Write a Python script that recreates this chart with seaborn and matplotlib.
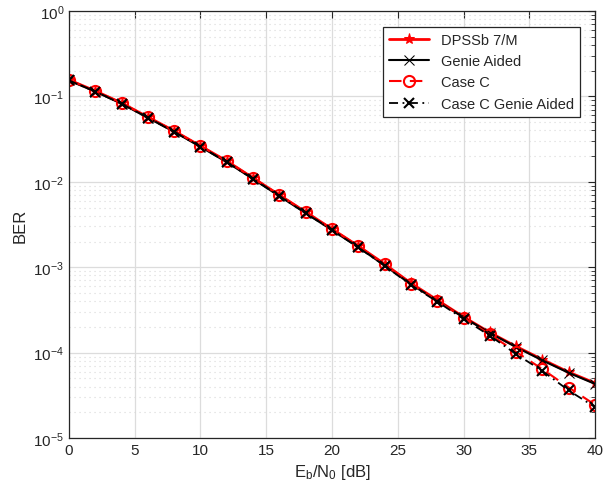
import numpy as np
import pandas as pd
import matplotlib
matplotlib.use("Agg")
import matplotlib.pyplot as plt
import seaborn as sns
from matplotlib.ticker import LogLocator, NullFormatter

snr_db = [0, 2, 4, 6, 8, 10, 12, 14, 16, 18, 20, 22, 24, 26, 28, 30, 32, 34, 36, 38, 40]
ber_dpss = [0.156, 0.116, 0.0837, 0.0574, 0.0394, 0.0263, 0.0175, 0.0111, 0.0070, 0.00443,
            0.0028, 0.00177, 0.00109, 0.00065, 0.000413, 0.000262, 0.000172, 0.000118,
            8.3e-5, 5.9e-5, 4.4e-5]
ber_genie = [0.154, 0.114, 0.0822, 0.0562, 0.0385, 0.0257, 0.0170, 0.0108, 0.0068, 0.00430,
             0.00272, 0.00171, 0.00105, 0.00063, 0.000405, 0.000258, 0.000170, 0.000116,
             8.1e-5, 5.8e-5, 4.3e-5]
ber_casec = [0.156, 0.116, 0.0837, 0.0574, 0.0394, 0.0263, 0.0175, 0.0111, 0.0070, 0.00443,
             0.0028, 0.00177, 0.00108, 0.00064, 0.000405, 0.000257, 0.000163, 0.000102,
             6.4e-5, 3.9e-5, 2.45e-5]
ber_casec_genie = [0.154, 0.114, 0.0822, 0.0562, 0.0385, 0.0257, 0.0170, 0.0108, 0.0068, 0.00430,
                   0.00272, 0.00171, 0.00104, 0.00062, 0.000395, 0.000248, 0.000158, 9.6e-5,
                   6.1e-5, 3.6e-5, 2.3e-5]
series_names = ["DPSSb 7/M", "Genie Aided", "Case C", "Case C Genie Aided"]

sns.set_style("white")
plt.rcParams['font.family'] = ['Liberation Sans', 'DejaVu Sans']
plt.rcParams['mathtext.fontset'] = 'custom'
plt.rcParams['mathtext.rm'] = 'Liberation Sans'
plt.rcParams['mathtext.it'] = 'Liberation Sans'

fig = plt.figure(figsize=(6.05, 5.02), dpi=100)
ax = fig.add_axes([0.114, 0.1255, 0.8695, 0.8505])

styles = [
    dict(color='#ff0000', linestyle='-', marker='*', markersize=8, mfc='#ff0000', mec='#ff0000', lw=2.0),
    dict(color='black', linestyle='-', marker='x', markersize=7, mfc='black', mec='black', lw=1.5),
    dict(color='#ff0000', linestyle=(0, (6, 4)), marker='o', markersize=8, mfc='none', mec='#ff0000', lw=1.5, mew=1.5),
    dict(color='black', linestyle=(0, (5, 2.5, 1, 2.5)), marker='x', markersize=7, mfc='black', mec='black', lw=1.3, mew=1.5),
]
data = [ber_dpss, ber_genie, ber_casec, ber_casec_genie]
for name, vals, st in zip(series_names, data, styles):
    df = pd.DataFrame({"snr": snr_db, "ber": vals})
    sns.lineplot(data=df, x="snr", y="ber", ax=ax, label=name, **st)

ax.set_yscale('log')
ax.set_xlim(0, 40)
ax.set_ylim(1e-5, 1)
ax.set_xticks([0, 5, 10, 15, 20, 25, 30, 35, 40])
ax.yaxis.set_major_locator(LogLocator(base=10, numticks=10))
ax.yaxis.set_minor_locator(LogLocator(base=10, subs=np.arange(2, 10), numticks=50))
ax.yaxis.set_minor_formatter(NullFormatter())
ax.grid(True, which='major', color='#dcdcdc', linewidth=0.9)
ax.grid(True, which='minor', axis='y', color='#d8d8d8', linestyle=(0, (1, 3.5)), linewidth=0.8)
ax.tick_params(which='both', direction='in', top=True, right=True, labelsize=11, colors='#262626')
ax.tick_params(which='major', length=5)
ax.tick_params(which='minor', length=3)
for s in ax.spines.values():
    s.set_color('#262626')
    s.set_linewidth(0.9)
ax.set_xlabel(r'E$_\mathrm{b}$/N$_\mathrm{0}$ [dB]', fontsize=12, color='#262626')
ax.set_ylabel('BER', fontsize=12, color='#262626')
leg = ax.legend(loc='upper right', bbox_to_anchor=(1 - 15 / 526, 1 - 16 / 427), borderaxespad=0,
                fontsize=10.5, frameon=True, fancybox=False,
                edgecolor='#262626', framealpha=1, handlelength=2.8,
                labelspacing=0.5)
leg.get_frame().set_linewidth(0.9)
fig.savefig('out.png', dpi=100)
